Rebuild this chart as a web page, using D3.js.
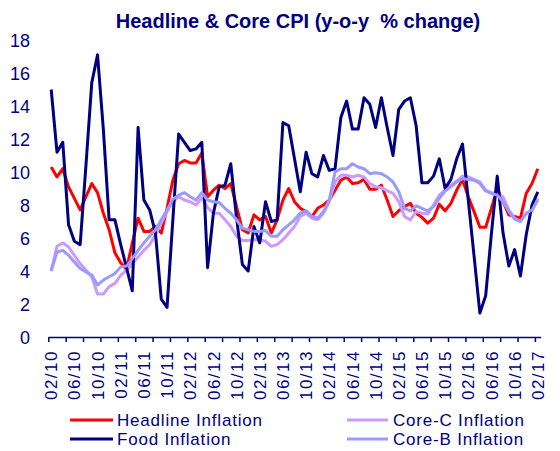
<!DOCTYPE html>
<html>
<head>
<meta charset="utf-8">
<script src="https://cdn.jsdelivr.net/npm/d3@7"></script>
<style>
    body { margin: 0; background: #fff; }
    svg text { font-family: "Liberation Sans", Arial, sans-serif; fill: #000080; }
</style>
</head>
<body>
<div id="chart-area"></div>
<script>

// month labels shown on the axis (every 4th month, Feb 2010 .. Feb 2017)
let tickLabels = ["02/10","06/10","10/10","02/11","06/11","10/11","02/12","06/12","10/12","02/13","06/13",
    "10/13","02/14","06/14","10/14","02/15","06/15","10/15","02/16","06/16","10/16","02/17"];

let yTicks = [0, 2, 4, 6, 8, 10, 12, 14, 16, 18];

// y-o-y % change, monthly Feb 2010 .. Feb 2017
let headline = [10.3, 9.7, 10.2, 9.1, 8.4, 7.7, 8.5, 9.3, 8.75, 7.5, 6.5, 5.1, 4.5, 4.1, 5.7, 7.2, 6.4, 6.4, 6.7, 6.3,
    7.8, 9.5, 10.5, 10.7, 10.55, 10.55, 11.15, 8.5, 8.9, 9.2, 9.0, 9.3, 7.9, 6.5, 6.3, 7.4, 7.1, 7.3, 6.3, 7.1,
    8.3, 9.0, 8.2, 7.8, 7.6, 7.3, 7.8, 8.0, 8.3, 8.9, 9.5, 9.7, 9.3, 9.35, 9.55, 8.95, 8.95, 9.2, 8.3, 7.3,
    7.65, 7.9, 8.1, 7.5, 7.25, 6.9, 7.2, 8.05, 7.65, 8.1, 8.9, 9.55, 8.5, 7.6, 6.65, 6.65, 7.8, 9.0, 8.2, 7.4,
    7.3, 7.2, 8.7, 9.3, 10.2];

let food = [15.0, 11.2, 11.8, 6.8, 5.8, 5.6, 10.4, 15.4, 17.1, 12.6, 7.1, 7.1, 5.6, 4.2, 2.8, 12.7, 8.3, 7.7, 6.3, 2.3,
    1.8, 7.1, 12.3, 11.8, 11.3, 11.4, 11.8, 4.2, 7.5, 9.1, 9.2, 10.5, 7.2, 4.4, 4.0, 6.7, 5.7, 8.2, 7.0, 7.1,
    13.0, 12.8, 10.8, 8.8, 11.2, 9.9, 9.7, 11.0, 10.1, 10.2, 13.3, 14.3, 12.6, 12.6, 14.5, 14.1, 12.7, 14.5, 12.7, 11.0,
    13.8, 14.3, 14.5, 12.8, 9.35, 9.35, 9.75, 10.8, 9.0, 9.55, 10.8, 11.7, 8.3, 4.9, 1.45, 2.5, 6.3, 9.75, 6.3, 4.3,
    5.3, 3.7, 6.2, 8.0, 8.8];

let coreC = [4.0, 5.5, 5.7, 5.45, 4.95, 4.45, 4.05, 3.65, 2.6, 2.6, 3.05, 3.25, 3.75, 4.05, 4.45, 4.85, 5.25, 5.6, 6.2, 6.9,
    7.6, 8.2, 8.5, 8.3, 8.2, 8.0, 8.45, 7.85, 7.5, 7.5, 7.1, 6.7, 6.1, 5.85, 5.85, 5.9, 5.9, 5.8, 5.5, 5.6,
    5.9, 6.3, 6.7, 7.3, 7.5, 7.2, 7.1, 7.5, 8.2, 9.4, 9.8, 9.8, 9.7, 9.8, 9.7, 9.3, 9.1, 9.05, 8.85, 8.7,
    8.2, 7.3, 7.1, 7.6, 7.5, 7.45, 8.0, 8.6, 8.9, 9.2, 9.45, 9.75, 9.7, 9.55, 9.4, 8.9, 8.75, 8.7, 8.5, 7.7,
    7.2, 7.0, 7.5, 7.65, 8.4];

let coreB = [4.0, 5.15, 5.25, 4.95, 4.55, 4.15, 3.95, 3.75, 3.15, 3.45, 3.65, 3.85, 4.25, 4.3, 4.75, 5.25, 5.7, 6.1, 6.5, 7.1,
    7.7, 8.35, 8.6, 8.75, 8.5, 8.3, 8.75, 8.3, 8.2, 8.15, 7.8, 7.5, 7.1, 6.6, 6.5, 6.4, 6.4, 6.45, 6.1, 6.1,
    6.5, 6.8, 7.1, 7.5, 7.65, 7.3, 7.2, 7.6, 8.3, 10.0, 10.2, 10.2, 10.5, 10.3, 10.2, 9.9, 9.95, 9.9, 9.7, 9.4,
    8.8, 7.8, 7.65, 7.95, 7.8, 7.65, 7.9, 8.4, 8.85, 9.1, 9.4, 9.6, 9.55, 9.5, 9.3, 8.85, 8.7, 8.6, 8.2, 7.6,
    7.15, 7.0, 7.5, 7.7, 8.3];

// drawing order follows the excel series order (last on top)
let series = [
    {name: "Headline Inflation", values: headline, color: "#ff0000"},
    {name: "Core-C Inflation", values: coreC, color: "#cc99ff"},
    {name: "Food Inflation", values: food, color: "#000080"},
    {name: "Core-B Inflation", values: coreB, color: "#9999ff"}
];

let width = 560, height = 451;

let svg = d3.select("#chart-area").append("svg")
    .attr("width", width)
    .attr("height", height);

// title
svg.append("text")
    .attr("x", 298)
    .attr("y", 28)
    .attr("text-anchor", "middle")
    .style("font-size", "20px")
    .style("font-weight", "bold")
    .text("Headline & Core CPI (y-o-y  % change)")
    .attr("xml:space", "preserve");

let nMonths = headline.length;

// one band per month, points sit in the middle of each band
let x = d3.scaleBand()
    .domain(d3.range(nMonths))
    .range([48.3, 540.7])
    .padding(0);

// continuous version of the same axis for the tick marks between months
let xEdge = d3.scaleLinear()
    .domain([0, nMonths])
    .range([48.3, 540.7]);

let y = d3.scaleLinear()
    .domain([0, 18])
    .range([337, 40]);

// y labels (no axis line)
let yAxis = d3.axisLeft(y)
    .tickValues(yTicks)
    .tickSize(0)
    .tickPadding(0);

let yGroup = svg.append("g")
    .attr("transform", "translate(30,0)")
    .call(yAxis);
yGroup.select(".domain").remove();
yGroup.selectAll("text")
    .style("font-size", "18px")
    .attr("fill", "#000080")
    .attr("dy", "0.36em");

// x axis line + tick every 3 months
let xAxis = d3.axisBottom(xEdge)
    .tickValues(d3.range(0, nMonths, 3))
    .tickSize(5)
    .tickSizeOuter(0)
    .tickFormat("");

svg.append("g")
    .attr("transform", `translate(0, ${y(0)})`)
    .call(xAxis)
    .call(g => g.select(".domain").attr("stroke", "#000080").attr("stroke-width", 1.5))
    .call(g => g.selectAll(".tick line").attr("stroke", "#000080").attr("stroke-width", 1.5));

// month labels every 4 months
let labelAxis = d3.axisBottom(x)
    .tickValues(d3.range(0, nMonths, 4))
    .tickSize(0)
    .tickFormat((d, i) => tickLabels[i]);

let labelGroup = svg.append("g")
    .attr("transform", `translate(0, ${y(0)})`)
    .call(labelAxis);
labelGroup.select(".domain").remove();
labelGroup.selectAll("text")
    .attr("fill", "#000080")
    .style("font-size", "17px")
    .style("letter-spacing", "1.5px")
    .attr("transform", "rotate(-90)")
    .attr("text-anchor", "end")
    .attr("x", -13)
    .attr("y", 0)
    .attr("dy", "0.36em");

// lines
let line = d3.line()
    .x((d, i) => x(i) + x.bandwidth() / 2)
    .y(d => y(d));

svg.selectAll(".series")
    .data(series)
    .enter().append("path")
    .attr("class", "series")
    .attr("d", d => line(d.values))
    .attr("fill", "none")
    .attr("stroke", d => d.color)
    .attr("stroke-width", 3)
    .attr("stroke-linejoin", "round");

// legend, 2 columns like excel
let legendPos = [
    {x: 70, y: 420},
    {x: 347, y: 420},
    {x: 70, y: 439},
    {x: 347, y: 439}
];

let legend = svg.selectAll(".legend-item")
    .data(series)
    .enter().append("g")
    .attr("class", "legend-item")
    .attr("transform", (d, i) => `translate(${legendPos[i].x}, ${legendPos[i].y})`);

legend.append("line")
    .attr("x1", 0)
    .attr("x2", (d, i) => i % 2 === 0 ? 43 : 41)
    .attr("y1", 0)
    .attr("y2", 0)
    .attr("stroke", d => d.color)
    .attr("stroke-width", 3);

legend.append("text")
    .attr("x", (d, i) => i % 2 === 0 ? 47 : 46)
    .attr("y", 0)
    .attr("dy", "0.36em")
    .style("font-size", "17px")
    .style("letter-spacing", "0.8px")
    .text(d => d.name);

</script>
</body>
</html>
